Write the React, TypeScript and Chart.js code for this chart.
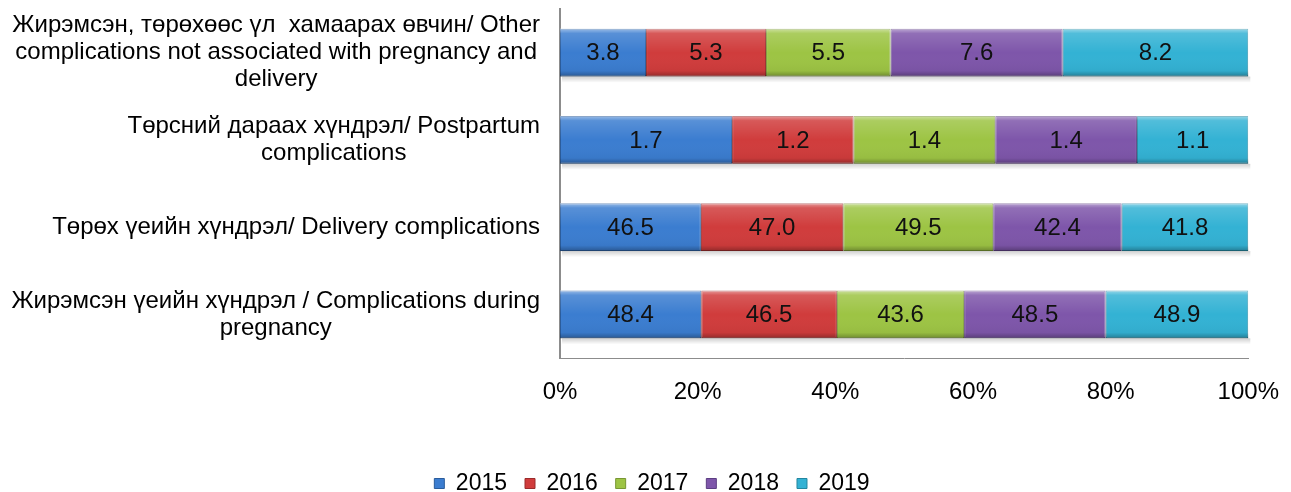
import React, { useEffect, useRef } from 'react';
import { Chart, registerables } from 'chart.js';

Chart.register(...registerables);

// ---------- data ----------
const categoryLines: string[][] = [
  ['Жирэмсэн, төрөхөөс үл  хамаарах өвчин/ Other', 'complications not associated with pregnancy and', 'delivery'],
  ['Төрсний дараах хүндрэл/ Postpartum', 'complications'],
  ['Төрөх үеийн хүндрэл/ Delivery complications'],
  ['Жирэмсэн үеийн хүндрэл / Complications during', 'pregnancy'],
];
const categories = categoryLines.map((l) => l.join(' '));
const years = ['2015', '2016', '2017', '2018', '2019'];
const v2015 = [3.8, 1.7, 46.5, 48.4];
const v2016 = [5.3, 1.2, 47.0, 46.5];
const v2017 = [5.5, 1.4, 49.5, 43.6];
const v2018 = [7.6, 1.4, 42.4, 48.5];
const v2019 = [8.2, 1.1, 41.8, 48.9];
const seriesValues = [v2015, v2016, v2017, v2018, v2019];
const xTickValues = [0, 20, 40, 60, 80, 100];

// ---------- style ----------
const FONT = "'Liberation Sans', Arial, sans-serif";
const FONT_SIZE = 24;
const LEGEND_FONT_SIZE = 23;
const colors = ['#3b7dd0', '#d03c3c', '#9dc444', '#7e56aa', '#33b2d4'];
const borderColors = ['#2a5c9c', '#9a2b2b', '#789633', '#5c3e82', '#23869f'];

const totals = categories.map((_, i) => seriesValues.reduce((s, arr) => s + arr[i], 0));
const percentSeries = seriesValues.map((arr) => arr.map((v, i) => (v / totals[i]) * 100));

const bevelPlugin = {
  id: 'bevel',
  beforeDatasetsDraw(chart: any) {
    const ctx = chart.ctx;
    const metaFirst = chart.getDatasetMeta(0);
    const metaLast = chart.getDatasetMeta(chart.data.datasets.length - 1);
    ctx.save();
    metaFirst.data.forEach((bar: any, i: number) => {
      const p = bar.getProps(['x', 'y', 'base', 'height'], true);
      const pl = metaLast.data[i].getProps(['x'], true);
      const bottom = p.y + p.height / 2;
      const g = ctx.createLinearGradient(0, bottom, 0, bottom + 6);
      g.addColorStop(0, 'rgba(0,0,0,0.18)');
      g.addColorStop(1, 'rgba(0,0,0,0)');
      ctx.fillStyle = g;
      ctx.fillRect(p.base + 2, bottom, pl.x - p.base, 6);
    });
    ctx.restore();
  },
  afterDatasetsDraw(chart: any) {
    const ctx = chart.ctx;
    ctx.save();
    chart.data.datasets.forEach((ds: any, di: number) => {
      const meta = chart.getDatasetMeta(di);
      meta.data.forEach((bar: any, i: number) => {
        const { x, y, base, height } = bar.getProps(['x', 'y', 'base', 'height'], true);
        const left = Math.min(x, base);
        const right = Math.max(x, base);
        const top = y - height / 2;
        const g = ctx.createLinearGradient(0, top, 0, top + height);
        g.addColorStop(0, 'rgba(255,255,255,0.5)');
        g.addColorStop(0.1, 'rgba(255,255,255,0.15)');
        g.addColorStop(0.5, 'rgba(255,255,255,0)');
        g.addColorStop(0.88, 'rgba(0,0,0,0.04)');
        g.addColorStop(1, 'rgba(0,0,0,0.3)');
        ctx.fillStyle = g;
        ctx.fillRect(left, top, right - left, height);
        // value label
        ctx.fillStyle = '#111';
        ctx.font = `${FONT_SIZE}px ${FONT}`;
        ctx.textAlign = 'center';
        ctx.textBaseline = 'middle';
        ctx.fillText(seriesValues[di][i].toFixed(1), (left + right) / 2, y + 1);
      });
    });
    ctx.restore();
  },
};

const yLabelPlugin = {
  id: 'yLabels',
  afterDraw(chart: any) {
    const ctx = chart.ctx;
    const yScale = chart.scales.y;
    ctx.save();
    ctx.font = `${FONT_SIZE}px ${FONT}`;
    ctx.fillStyle = '#000';
    ctx.textAlign = 'center';
    ctx.textBaseline = 'middle';
    const rightEdge = yScale.right - 20;
    const lh = 27;
    categoryLines.forEach((lines, i) => {
      const cy = yScale.getPixelForTick(i);
      const w = Math.max(...lines.map((l) => ctx.measureText(l).width));
      const cx = rightEdge - w / 2;
      lines.forEach((l, j) => ctx.fillText(l, cx, cy + (j - (lines.length - 1) / 2) * lh));
    });
    ctx.restore();
  },
};

export default function App() {
  const canvasRef = useRef<HTMLCanvasElement | null>(null);

  useEffect(() => {
    if (!canvasRef.current) return;
    const chart = new Chart(canvasRef.current, {
      type: 'bar',
      data: {
        labels: categories,
        datasets: years.map((yr, i) => ({
          label: yr,
          data: percentSeries[i],
          backgroundColor: colors[i],
          borderColor: borderColors[i],
          borderWidth: 1,
          borderSkipped: false,
          barPercentage: 0.55,
          categoryPercentage: 1,
        })),
      },
      options: {
        indexAxis: 'y',
        animation: false,
        responsive: true,
        maintainAspectRatio: false,
        layout: { padding: { left: 52, right: 39, top: 9, bottom: -13 } },
        plugins: {
          tooltip: { enabled: false },
          legend: {
            position: 'bottom',
            labels: {
              boxWidth: 10,
              boxHeight: 10,
              padding: 18,
              color: '#000',
              font: { size: LEGEND_FONT_SIZE, family: FONT },
            },
          },
        },
        scales: {
          x: {
            stacked: true,
            min: 0,
            max: 100,
            afterBuildTicks: (scale: any) => {
              scale.ticks = xTickValues.map((v) => ({ value: v }));
            },
            afterFit: (scale: any) => {
              scale.height = 96;
            },
            grid: { display: false },
            border: { display: true, color: '#8c8c8c', width: 1 },
            ticks: {
              padding: 12,
              color: '#000',
              font: { size: FONT_SIZE, family: FONT },
              callback: (v: any) => `${v}%`,
            },
          },
          y: {
            stacked: true,
            afterFit: (scale: any) => {
              scale.width = 508;
            },
            grid: { display: false },
            border: { display: true, color: '#8c8c8c', width: 2 },
            ticks: { display: false },
          },
        },
      },
      plugins: [bevelPlugin, yLabelPlugin],
    } as any);
    return () => chart.destroy();
  }, []);

  return (
    <div style={{ position: 'absolute', left: 0, top: 0, width: '1291px', height: '492px', background: '#fff' }}>
      <canvas ref={canvasRef} />
    </div>
  );
}
